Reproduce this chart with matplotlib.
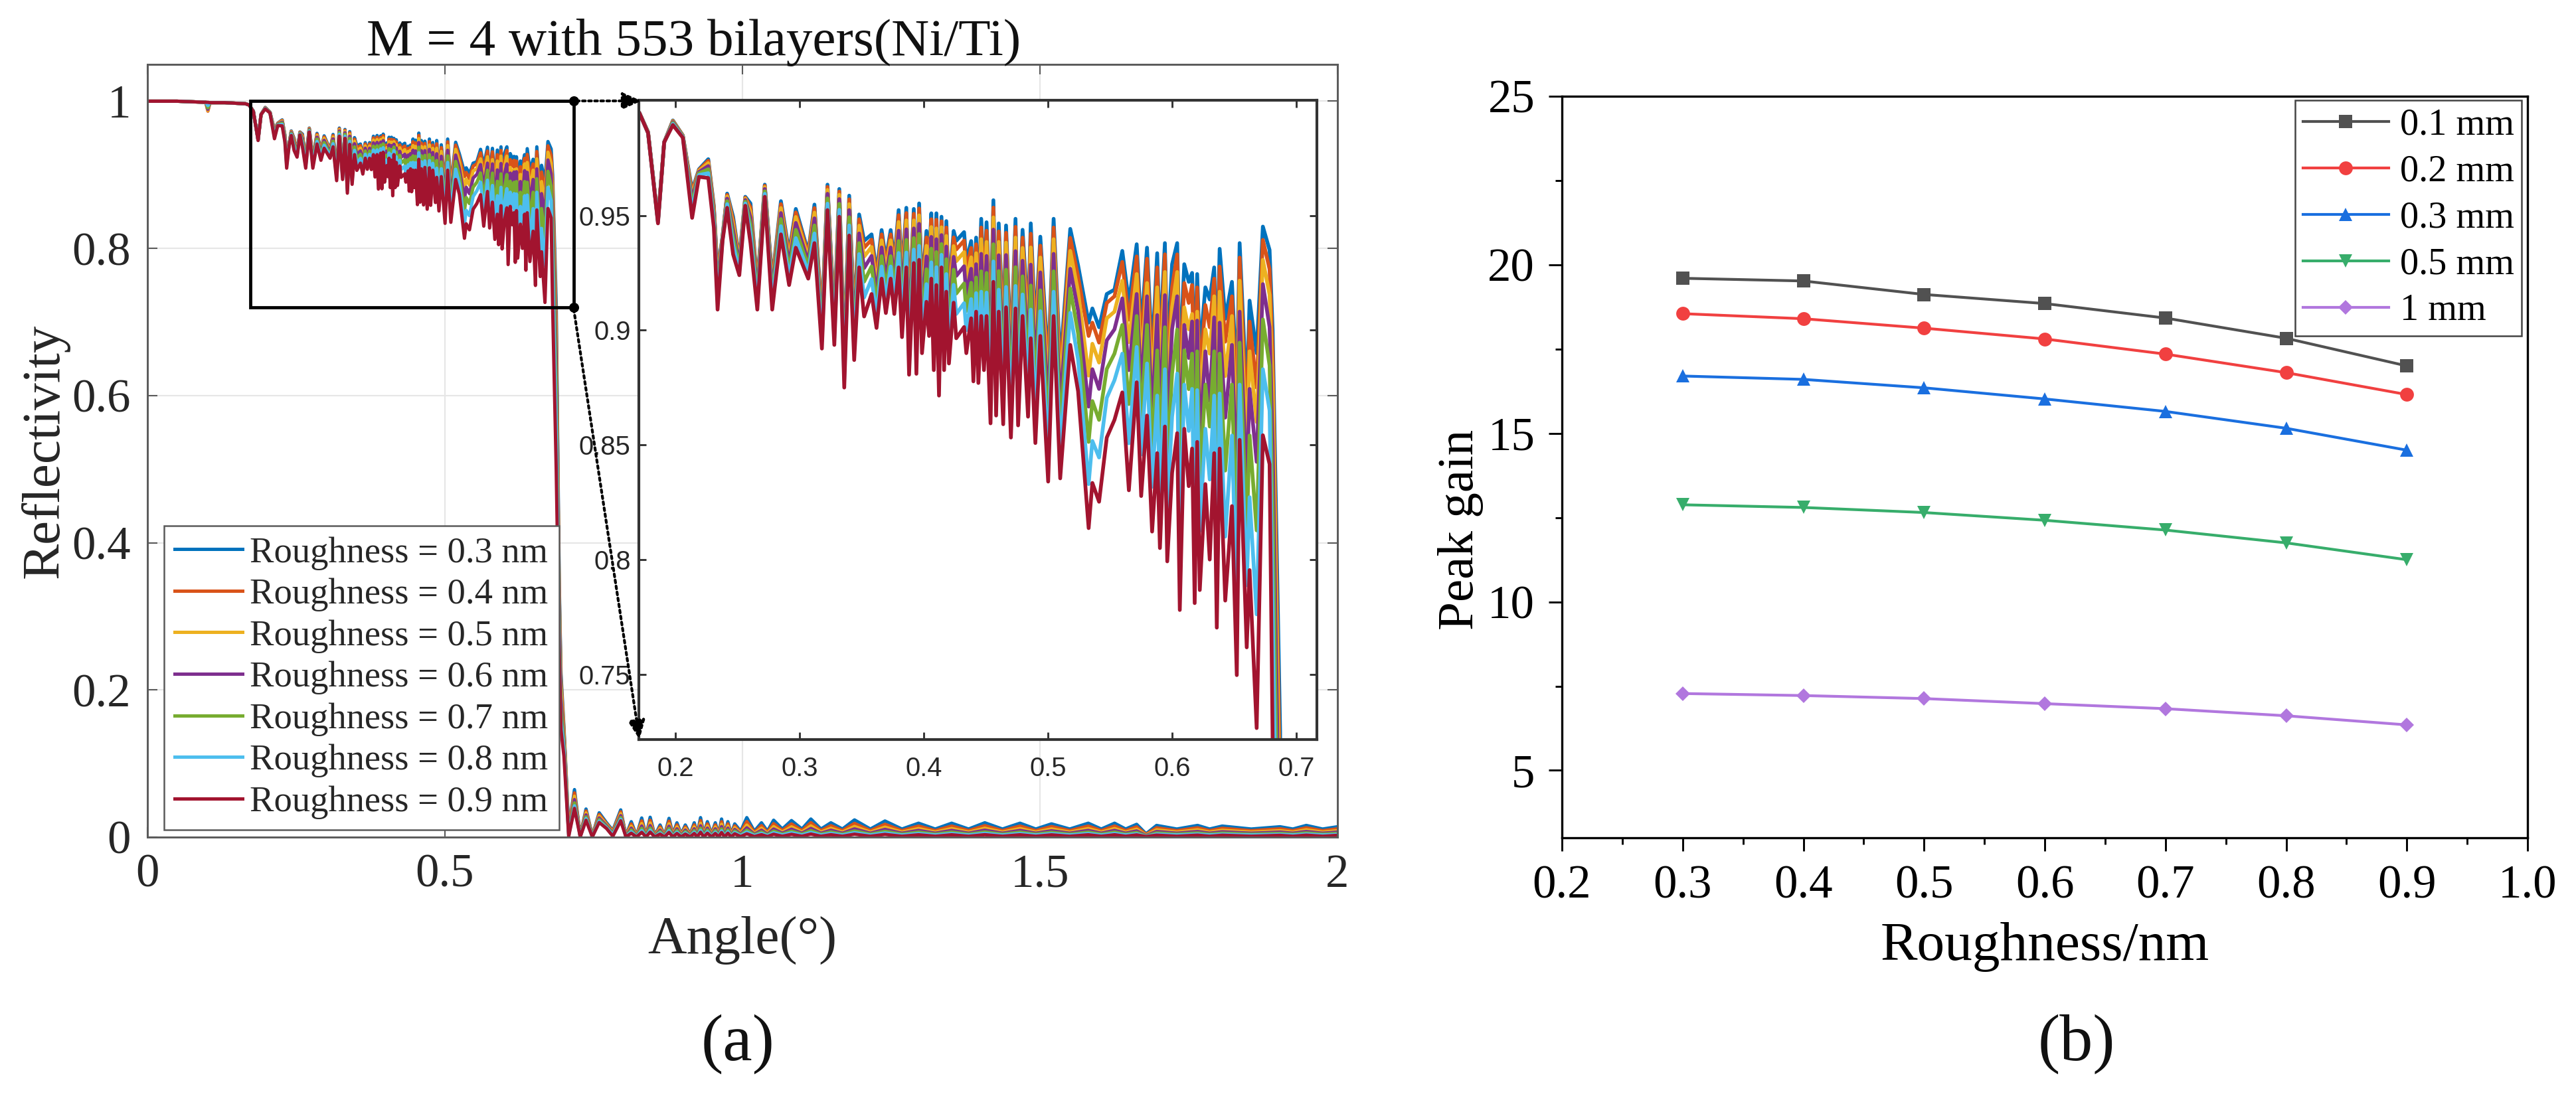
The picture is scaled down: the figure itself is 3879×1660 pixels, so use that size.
#!/usr/bin/env python3
"""Reflectivity vs angle with zoomed inset (a), peak gain vs roughness (b)."""

import matplotlib
matplotlib.use("Agg")
import matplotlib.pyplot as plt
from matplotlib.patches import FancyArrowPatch, Rectangle
from matplotlib.ticker import MultipleLocator, FixedLocator

W, H = 3879, 1660

# ---- (a) curves: head (flat part), oscillating part, drop, then tail ----
angle = [
    0, .05, .098, .1016, .105, .13, .165,
    .171,.178,.186,.191,.198,.206,.2135,.219,.2265,.231,.234,.238,.2417,.2465,.2515,.2563,.2605,.266,.272,.278,.285,.2916,.297,.307,.312,.318,.3225,.328,.332,.336,.340,.344,.348,.352,.358,.362,.3661,.3695,.3734,.3763,.3798,.3825,.386,.3882,.392,.3941,.3963,.3986,.4022,.4043,.4061,.4081,.4102,.4123,.4143,.4164,.4182,.4203,.4241,.4262,.4325,.4343,.4382,.44,.4422,.444,.4463,.4485,.4506,.4538,.4561,.4583,.4604,.464,.4663,.4702,.4739,.476,.4796,.484,.4862,.4899,.4939,.5002,.5046,.5099,.518,.5243,.5328,.5358,.5412,.5474,.5536,.5599,.5652,.5715,.5751,.5798,.5839,.588,.5902,.5942,.5961,.60,.6041,.6062,.6098,.6134,.6161,.6182,.6202,.6223,.6268,.6303,.6339,.636,.6383,.6428,.6482,.6521,.6544,.6601,.6624,.6681,.6731,.6785,.681,.687,.692,.695,.70,.708,
    .7177,.7274,.7371,.7477,.7592,.7716,.7822,.7954,.8042,.8131,.822,.8307,.838,.8449,.8528,.8616,.869,.8766,.883,.8899,.897,.904,.912,.919,.924,.9296,.935,.9411,.948,.9544,.96,.9649,.97,.9755,.981,.987,.997,1.0073,1.02,1.032,1.042,1.0524,1.067,1.0824,1.10,1.115,1.132,1.1486,1.168,1.1883,1.215,1.2395,1.268,1.296,1.324,1.3516,1.38,1.4073,1.437,1.4665,1.493,1.5194,1.55,1.5812,1.603,1.6254,1.644,1.6625,1.6783,1.696,1.73,1.7649,1.785,1.8063,1.855,1.9035,1.925,1.9476,1.975,2.0,
]
r03 = [
    1, 1, .9985, .99, .998, .998, .9965,
    .9948,.9865,.948,.982,.9915,.985,.961,.9702,.9746,.9543,.925,.941,.9596,.9495,.931,.9582,.9553,.92,.9635,.922,.9563,.934,.9529,.934,.9548,.905,.9635,.905,.9616,.889,.9587,.905,.9505,.939,.9418,.925,.9437,.931,.9437,.93,.9524,.925,.9534,.908,.9529,.908,.9553,.918,.9433,.93,.951,.912,.951,.902,.9495,.91,.9476,.917,.9433,.939,.9428,.93,.9389,.915,.9404,.912,.9486,.92,.9471,.902,.9567,.902,.9466,.899,.9457,.89,.9486,.898,.9438,.905,.9466,.90,.9408,.885,.9486,.885,.9442,.9283,.9033,.9095,.9013,.9158,.9177,.9346,.912,.9375,.90,.936,.89,.9336,.895,.938,.89,.9288,.938,.885,.9288,.9211,.925,.885,.9245,.89,.9187,.9134,.9274,.885,.9355,.905,.9211,.875,.938,.87,.9129,.89,.9452,.935,.90,.725,.35,.222,.15,.012,
    .0646,.002,.0382,.002,.0331,.0195,.009,.037,.002,.021,.002,.026,.002,.027,.002,.0165,.002,.0255,.004,.0195,.004,.0165,.004,.0195,.004,.0265,.004,.021,.004,.0195,.004,.0246,.004,.021,.004,.018,.008,.0265,.008,.0195,.008,.023,.011,.0225,.011,.0246,.011,.0195,.011,.0234,.011,.0219,.011,.0189,.011,.0189,.011,.0195,.011,.0189,.011,.018,.011,.0189,.011,.0189,.011,.0174,.0045,.0159,.011,.0159,.011,.015,.011,.0141,.011,.0159,.011,.0141,
]
r04 = [
    1, 1, .9985, .9865, .998, .998, .9965,
    .9948,.9864,.9479,.982,.9913,.9849,.9599,.9699,.9739,.9534,.9236,.9408,.959,.948,.9304,.9578,.9537,.919,.963,.9208,.955,.9327,.9514,.933,.9533,.9038,.9625,.904,.9605,.8877,.9571,.9034,.9484,.936,.9395,.9228,.9418,.9289,.9418,.9279,.9502,.9225,.9511,.9055,.9508,.9056,.9531,.9155,.9405,.9271,.9484,.9094,.9482,.8993,.9475,.9075,.9448,.9142,.9405,.9352,.9391,.9264,.9359,.9116,.9375,.9089,.9448,.9166,.9434,.8982,.9535,.8985,.9431,.8954,.9425,.8867,.9451,.8944,.9404,.9012,.9421,.8956,.9369,.8804,.9448,.8805,.9403,.9234,.8975,.9033,.8946,.9119,.9148,.9298,.9046,.9322,.8935,.9312,.883,.9274,.8869,.9331,.8818,.9187,.9331,.8754,.9206,.9119,.9197,.8756,.9187,.8807,.911,.9013,.9225,.8747,.9278,.895,.9148,.8637,.9317,.8603,.9038,.875,.9394,.9266,.89,.70,.34,.215,.145,.01,
    .0601,.0018,.0355,.0018,.0308,.0181,.0078,.0344,.0018,.0179,.0018,.0221,.0018,.023,.0018,.014,.0018,.0217,.0034,.0166,.0034,.014,.0034,.0166,.0034,.0225,.0034,.0179,.0034,.0166,.0034,.0209,.0034,.0179,.0034,.0153,.0064,.0212,.0064,.0156,.0064,.0184,.0088,.018,.0088,.0197,.0088,.0156,.0088,.0187,.0088,.0175,.0088,.0151,.0088,.0151,.0088,.0156,.0088,.0151,.0088,.0144,.0088,.0151,.0088,.0151,.0088,.0139,.0036,.0127,.0088,.0127,.0088,.012,.0088,.0113,.0088,.0127,.0088,.0113,
]
r05 = [
    1, 1, .9985, .9875, .998, .998, .9965,
    .9948,.9864,.9477,.982,.9911,.9848,.9585,.9695,.9729,.9523,.9216,.9406,.9583,.9461,.9295,.9574,.9517,.9177,.9624,.9193,.9533,.931,.9494,.9316,.9513,.9023,.9612,.9026,.9591,.8861,.955,.9012,.9456,.9321,.9363,.92,.9392,.9261,.9392,.9252,.9472,.9191,.9479,.9022,.9479,.9023,.9501,.9121,.9368,.9232,.945,.9058,.9444,.8956,.9449,.9042,.9411,.9104,.9367,.9301,.9341,.9216,.9318,.9072,.9336,.9047,.9397,.9121,.9385,.8931,.9492,.8938,.9385,.8906,.9382,.8823,.9404,.8897,.9359,.896,.9361,.8897,.9317,.8743,.9397,.8746,.9346,.9168,.8802,.8941,.8859,.9052,.9081,.9216,.8948,.9245,.8848,.9206,.8737,.9187,.8761,.9254,.8709,.91,.9254,.8625,.91,.9004,.9071,.8632,.9081,.8683,.9004,.8898,.9148,.8609,.9168,.88,.9062,.8487,.9216,.8473,.8908,.86,.9307,.9154,.875,.68,.33,.205,.14,.008,
    .0556,.0015,.0329,.0015,.0285,.0168,.0066,.0318,.0015,.0149,.0015,.0185,.0015,.0192,.0015,.0117,.0015,.0181,.0028,.0138,.0028,.0117,.0028,.0138,.0028,.0188,.0028,.0149,.0028,.0138,.0028,.0175,.0028,.0149,.0028,.0128,.005,.0164,.005,.0121,.005,.0143,.0068,.014,.0068,.0153,.0068,.0121,.0068,.0145,.0068,.0136,.0068,.0117,.0068,.0117,.0068,.0121,.0068,.0117,.0068,.0112,.0068,.0117,.0068,.0117,.0068,.0108,.0028,.0099,.0068,.0099,.0068,.0093,.0068,.0087,.0068,.0099,.0068,.0087,
]
r06 = [
    1, 1, .9985, .989, .998, .998, .9965,
    .9948,.9863,.9475,.982,.9908,.9846,.9567,.969,.9716,.9508,.9192,.9403,.9574,.9436,.9285,.9568,.9491,.916,.9616,.9173,.9511,.9289,.9468,.9299,.9488,.9003,.9595,.9009,.9572,.884,.9524,.8985,.9422,.9271,.9324,.9164,.9361,.9225,.9361,.9218,.9434,.9149,.944,.8981,.9444,.8983,.9464,.9079,.9322,.9183,.9407,.9014,.9397,.891,.9415,.9001,.9365,.9057,.932,.9237,.9279,.9156,.9268,.9016,.9288,.8994,.9333,.9065,.9324,.8867,.9439,.8879,.9327,.8846,.9328,.8768,.9345,.8838,.9303,.8896,.9286,.8823,.9252,.8666,.9333,.8671,.9268,.9085,.8667,.883,.8744,.8956,.9004,.9139,.8826,.9158,.874,.9148,.862,.9066,.8626,.9153,.8573,.9004,.9148,.8465,.9023,.8879,.9038,.8476,.9042,.8528,.8908,.8692,.9056,.8437,.9033,.8619,.8936,.8299,.9081,.831,.8744,.8426,.9201,.9014,.85,.65,.32,.19,.13,.006,
    .051,.0012,.0302,.0012,.0261,.0154,.0054,.0292,.0012,.0122,.0012,.0151,.0012,.0157,.0012,.0096,.0012,.0148,.0022,.0113,.0022,.0096,.0022,.0113,.0022,.0154,.0022,.0122,.0022,.0113,.0022,.0143,.0022,.0122,.0022,.0104,.0038,.0127,.0038,.0094,.0038,.011,.0053,.0108,.0053,.0118,.0053,.0094,.0053,.0112,.0053,.0105,.0053,.0091,.0053,.0091,.0053,.0094,.0053,.0091,.0053,.0086,.0053,.0091,.0053,.0091,.0053,.0084,.0022,.0076,.0053,.0076,.0053,.0072,.0053,.0068,.0053,.0076,.0053,.0068,
]
r07 = [
    1, 1, .9985, .991, .998, .998, .9965,
    .9948,.9862,.9472,.982,.9904,.9845,.9545,.9684,.9702,.9491,.9164,.9399,.9563,.9406,.9272,.9561,.946,.9141,.9606,.915,.9485,.9263,.9438,.9278,.9457,.898,.9575,.8988,.9551,.8814,.9493,.8953,.938,.9212,.9278,.912,.9323,.9183,.9323,.9176,.9389,.9099,.9394,.8932,.9402,.8934,.942,.9029,.9266,.9125,.9356,.8961,.9341,.8855,.9376,.8952,.931,.90,.9264,.916,.9204,.9084,.9207,.8949,.923,.8931,.9257,.8998,.925,.879,.9375,.8808,.9258,.8774,.9264,.8701,.9275,.8767,.9235,.8819,.9195,.8734,.9174,.8575,.9257,.8582,.9182,.8987,.8513,.8691,.8609,.8831,.8898,.9023,.8678,.9062,.861,.9023,.848,.8912,.8464,.9013,.841,.8811,.9003,.8272,.8912,.8743,.8898,.8288,.8908,.8342,.8763,.858,.8908,.8231,.8898,.8388,.8763,.8073,.8946,.8115,.8541,.8127,.9047,.8846,.82,.61,.30,.175,.125,.004,
    .0465,.001,.0275,.001,.0238,.014,.0045,.0266,.001,.0097,.001,.012,.001,.0124,.001,.0076,.001,.0117,.0016,.009,.0016,.0076,.0016,.009,.0016,.0122,.0016,.0097,.0016,.009,.0016,.0113,.0016,.0097,.0016,.0083,.0029,.0095,.0029,.007,.0029,.0083,.004,.0081,.004,.0089,.004,.007,.004,.0084,.004,.0079,.004,.0068,.004,.0068,.004,.007,.004,.0068,.004,.0065,.004,.0068,.004,.0068,.004,.0063,.0016,.0057,.004,.0057,.004,.0054,.004,.0051,.004,.0057,.004,.0051,
]
r08 = [
    1, 1, .9985, .994, .998, .998, .9965,
    .9948,.9861,.947,.982,.99,.9843,.952,.9677,.9685,.9471,.913,.9395,.955,.9372,.9258,.9553,.9423,.9118,.9595,.9123,.9454,.9233,.9402,.9254,.9422,.8953,.9552,.8965,.9525,.8785,.9457,.8915,.9332,.9143,.9223,.907,.9278,.9134,.9278,.9128,.9337,.904,.9339,.8875,.9352,.8878,.9368,.897,.9201,.9056,.9296,.89,.9275,.8791,.9329,.8895,.9245,.8934,.9198,.9071,.9118,.90,.9136,.887,.9162,.8858,.9168,.892,.9164,.87,.93,.8726,.9177,.869,.9189,.8624,.9193,.8684,.9156,.873,.909,.8631,.9083,.8468,.9168,.8478,.9076,.8871,.8329,.8517,.8445,.8705,.8782,.8898,.8507,.8927,.8458,.8855,.8317,.8715,.8275,.883,.8219,.8623,.8811,.8048,.8763,.8561,.8744,.807,.8739,.8125,.857,.8349,.8715,.799,.8724,.81,.8541,.781,.8763,.7888,.8272,.7761,.883,.865,.78,.56,.28,.16,.12,.002,
    .0426,.0006,.0252,.0006,.0218,.0129,.0032,.0244,.0006,.0074,.0006,.0091,.0006,.0095,.0006,.0058,.0006,.0089,.001,.0068,.001,.0058,.001,.0068,.001,.0093,.001,.0074,.001,.0068,.001,.0086,.001,.0074,.001,.0063,.0021,.0069,.0021,.0051,.0021,.006,.0029,.0059,.0029,.0064,.0029,.0051,.0029,.0061,.0029,.0057,.0029,.0049,.0029,.0049,.0029,.0051,.0029,.0049,.0029,.0047,.0029,.0049,.0029,.0049,.0029,.0045,.0012,.0041,.0029,.0041,.0029,.0039,.0029,.0037,.0029,.0041,.0029,.0037,
]
r09 = [
    1, 1, .9985, .9985, .998, .998, .9965,
    .9948,.986,.9466,.982,.9895,.984,.949,.9669,.9664,.9447,.909,.939,.9534,.9331,.924,.9543,.938,.909,.9582,.909,.9418,.9197,.936,.9225,.938,.892,.9524,.8936,.9495,.875,.9413,.887,.9274,.906,.9158,.901,.9225,.9075,.9225,.9071,.9274,.897,.9274,.8806,.9293,.881,.9307,.89,.9124,.8975,.9225,.8826,.9197,.8715,.9274,.8826,.9168,.8855,.912,.8965,.9014,.89,.9052,.8777,.9081,.877,.9062,.8826,.9062,.8594,.9211,.8628,.9081,.859,.91,.8532,.9095,.8585,.9062,.8623,.8965,.8508,.8975,.834,.9062,.8354,.8936,.8734,.8137,.8334,.8252,.8532,.8609,.8729,.8302,.8773,.8277,.8628,.8122,.8464,.805,.858,.7992,.8378,.8551,.778,.857,.832,.8484,.781,.8513,.7867,.8329,.80,.8464,.7703,.8484,.7821,.8233,.7496,.8522,.7617,.7954,.7265,.8542,.8416,.72,.50,.26,.146,.11,.001,
    .039,.0003,.0229,.0003,.0199,.0117,.0012,.0222,.0003,.0053,.0003,.0065,.0003,.0068,.0003,.0041,.0003,.0064,.0004,.0049,.0004,.0041,.0004,.0049,.0004,.0066,.0004,.0053,.0004,.0049,.0004,.0062,.0004,.0053,.0004,.0045,.0008,.0045,.0008,.0033,.0008,.0039,.0012,.0038,.0012,.0042,.0012,.0033,.0012,.004,.0012,.0037,.0012,.0032,.0012,.0032,.0012,.0033,.0012,.0032,.0012,.0031,.0012,.0032,.0012,.0032,.0012,.003,.0008,.0027,.0012,.0027,.0012,.0026,.0012,.0024,.0012,.0027,.0012,.0024,
]
curves = [r03, r04, r05, r06, r07, r08, r09]
curve_labels = ["Roughness = 0.%d nm" % i for i in (3, 4, 5, 6, 7, 8, 9)]
curve_colors = ["#0072BD", "#D95319", "#EDB120", "#7E2F8E", "#77AC30", "#4DBEEE", "#A2142F"]

# ---- (b) peak gain ----
roughness = [0.3, 0.4, 0.5, 0.6, 0.7, 0.8, 0.9]
gain_01 = [19.6, 19.52, 19.12, 18.85, 18.42, 17.82, 17.0]
gain_02 = [18.55, 18.4, 18.12, 17.8, 17.35, 16.8, 16.15]
gain_03 = [16.7, 16.6, 16.35, 16.02, 15.65, 15.15, 14.5]
gain_05 = [12.88, 12.8, 12.65, 12.42, 12.13, 11.75, 11.25]
gain_1 = [7.28, 7.22, 7.13, 6.98, 6.83, 6.62, 6.35]
gain_labels = ["0.1 mm", "0.2 mm", "0.3 mm", "0.5 mm", "1 mm"]
gain_colors = ["#515151", "#F14040", "#1A6FDF", "#37AD6B", "#B177DE"]
gain_markers = ["s", "o", "^", "v", "D"]


def px_axes(fig, left, top, right, bottom):
    # axes from pixel edges of the 3879x1660 picture
    return fig.add_axes([left / W, 1 - bottom / H, (right - left) / W, (bottom - top) / H])


def main():
    plt.rcParams["font.family"] = ["Liberation Serif", "DejaVu Serif"]
    plt.rcParams["mathtext.fontset"] = "stix"

    fig = plt.figure(figsize=(W / 300, H / 300), dpi=300)
    grey = "#5a5a5a"
    ink = "#262626"

    # ---- panel (a) ----
    ax = px_axes(fig, 222, 97, 2014, 1261)
    for vals, lab, col in zip(curves, curve_labels, curve_colors):
        ax.plot(angle, vals, color=col, lw=1.2, label=lab, solid_joinstyle="round")
    ax.set_xlim(0, 2)
    ax.set_ylim(0, 1.05)
    ax.set_xticks([0, 0.5, 1, 1.5, 2])
    ax.set_xticklabels(["0", "0.5", "1", "1.5", "2"])
    ax.set_yticks([0, 0.2, 0.4, 0.6, 0.8, 1])
    ax.set_yticklabels(["0", "0.2", "0.4", "0.6", "0.8", "1"])
    ax.grid(True, color="#e6e6e6", lw=0.5)
    ax.set_axisbelow(True)
    ax.tick_params(direction="in", length=3.5, width=0.5, color=grey, top=True, right=True,
                   labelsize=17, labelcolor=ink, pad=6)
    for s in ax.spines.values():
        s.set_linewidth(0.7)
        s.set_color(grey)
    ax.set_xlabel("Angle(°)", fontsize=19.5, color=ink, labelpad=7)
    ax.set_ylabel("Reflectivity", fontsize=19.5, color=ink, labelpad=1)

    leg = ax.legend(loc="lower left", bbox_to_anchor=(247 / W, 1 - 1250 / H),
                    bbox_transform=fig.transFigure, borderaxespad=0, fontsize=13.1,
                    handlelength=1.87, handletextpad=0.2, labelspacing=0.22,
                    borderpad=0.3, fancybox=False, framealpha=1, edgecolor=grey)
    leg.get_frame().set_linewidth(0.6)
    for t in leg.get_texts():
        t.set_color(ink)

    # zoom rectangle and corner dots
    ax.add_patch(Rectangle((0.173, 0.72), 0.543, 0.28, fill=False, ec="black", lw=1.15, zorder=5))
    ax.plot([0.716, 0.716], [1.0, 0.72], ls="none", marker="o", ms=2.6, color="black", zorder=6)

    # ---- inset ----
    ins = px_axes(fig, 962, 151, 1983, 1114)
    for vals, col in zip(curves, curve_colors):
        ins.plot(angle, vals, color=col, lw=1.35, solid_joinstyle="round")
    ins.set_xlim(0.1706, 0.7166)
    ins.set_ylim(0.7215, 1.0003)
    ins.set_xticks([0.2, 0.3, 0.4, 0.5, 0.6, 0.7])
    ins.set_yticks([0.75, 0.8, 0.85, 0.9, 0.95])
    ins.set_yticklabels(["0.75", "0.8", "0.85", "0.9", "0.95"])
    ins.tick_params(direction="in", length=2.6, width=0.7, color="#333333", top=True, right=True,
                    labelsize=9.6, labelcolor=ink, pad=3)
    ins.tick_params(axis="x", pad=6)
    for t in ins.get_xticklabels() + ins.get_yticklabels():
        t.set_fontfamily(["Liberation Sans", "DejaVu Sans"])
    for s in ins.spines.values():
        s.set_linewidth(1.0)
        s.set_color("#333333")

    # dotted arrows, rectangle corners to inset corners
    for start, end in [((868, 152), (966, 152)), ((864, 466), (963, 1114))]:
        fig.add_artist(FancyArrowPatch(
            (start[0] / W, 1 - start[1] / H), (end[0] / W, 1 - end[1] / H),
            transform=fig.transFigure, arrowstyle="-|>,head_length=3.6,head_width=1.6",
            linestyle=(0, (1, 1.2)), lw=1.0, color="black", shrinkA=0, shrinkB=0,
            mutation_scale=1.6, zorder=10))

    fig.text(1045 / W, 1 - 64 / H, "M = 4 with 553 bilayers(Ni/Ti)", fontsize=19,
             color="#111111", ha="center", va="center")
    fig.text(1111 / W, 1 - 1573 / H, "(a)", fontsize=24, color="#111111", ha="center", va="center")

    # ---- panel (b) ----
    bx = px_axes(fig, 2352, 145, 3806, 1262)
    series = [gain_01, gain_02, gain_03, gain_05, gain_1]
    for vals, lab, col, mk in zip(series, gain_labels, gain_colors, gain_markers):
        ms = 3.9 if mk == "D" else 5.0
        bx.plot(roughness, vals, color=col, lw=1.0, marker=mk, ms=ms, mew=0, label=lab)
    bx.set_xlim(0.2, 1.0)
    bx.set_ylim(3, 25)
    bx.xaxis.set_major_locator(FixedLocator([0.2, 0.3, 0.4, 0.5, 0.6, 0.7, 0.8, 0.9, 1.0]))
    bx.xaxis.set_minor_locator(MultipleLocator(0.05))
    bx.set_yticks([5, 10, 15, 20, 25])
    bx.yaxis.set_minor_locator(MultipleLocator(2.5))
    bx.tick_params(which="major", length=4.8, width=0.7, labelsize=17, color="black", pad=5)
    bx.tick_params(which="minor", length=2.4, width=0.7, color="black")
    for s in bx.spines.values():
        s.set_linewidth(0.8)
    bx.set_xlabel("Roughness/nm", fontsize=20, labelpad=5)
    fig.text(2200 / W, 1 - 798 / H, "Peak gain", fontsize=18.5, rotation=90,
             ha="center", va="center")

    leg2 = bx.legend(loc="upper right", bbox_to_anchor=(3797 / W, 1 - 151 / H),
                     bbox_transform=fig.transFigure, borderaxespad=0, fontsize=13.5,
                     handlelength=2.3, handletextpad=0.3, labelspacing=0.32,
                     borderpad=0.2, fancybox=False, framealpha=1, edgecolor="#444444")
    leg2.get_frame().set_linewidth(0.6)

    fig.text(3127 / W, 1 - 1573 / H, "(b)", fontsize=24, color="#111111", ha="center", va="center")

    fig.savefig("out.png", dpi=300)
    plt.close(fig)
    print("Wrote: out.png")


if __name__ == "__main__":
    main()
